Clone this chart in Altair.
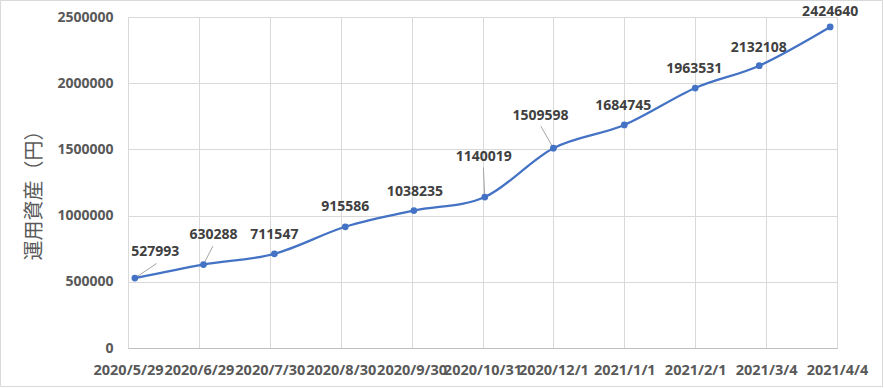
import altair as alt
import pandas as pd

# ---- data ----
dates = ["2020-06-01", "2020-07-01", "2020-08-01", "2020-09-01", "2020-10-01",
         "2020-11-01", "2020-12-01", "2021-01-01", "2021-02-01", "2021-03-01",
         "2021-04-01"]
assets = [527993, 630288, 711547, 915586, 1038235, 1140019, 1509598,
          1684745, 1963531, 2132108, 2424640]
tick_dates = ["2020-05-29", "2020-06-29", "2020-07-30", "2020-08-30", "2020-09-30",
              "2020-10-31", "2020-12-01", "2021-01-01", "2021-02-01", "2021-03-04",
              "2021-04-04"]
y_ticks = [0, 500000, 1000000, 1500000, 2000000, 2500000]
y_title = "運用資産（円）"

# ---- layout / style ----
W, H = 709, 331
PAD = {"left": 128, "top": 17, "right": 47, "bottom": 40}
BLUE = "#4472C4"
FONT = "Open Sans"

# label offsets (pixels from the point) and leader-line ends (pixels from the point)
label_dx = [20.5, 10, 0, 0, 1, -1, -13, -1, -1, -0.5, 0]
label_dy = [-26, -30, -19, -19.5, -19, -40.5, -32.5, -19, -19.5, -18, -14.5]
leaders = {0: (21.7, -14.6), 1: (9.4, -18.4), 5: (-1.4, -29.4), 6: (-12.6, -22.0)}

def ms(s):
    return int(pd.Timestamp(s, tz="UTC").value // 10**6)

x_min, x_max = ms(tick_dates[0]), ms(tick_dates[-1])
ms_per_px = (x_max - x_min) / W
units_per_px = (y_ticks[-1] - y_ticks[0]) / H

df = pd.DataFrame({
    "date": [ms(d) for d in dates],
    "value": assets,
})
df["label"] = [str(v) for v in assets]
df["lx"] = [d + dx * ms_per_px for d, dx in zip(df["date"], label_dx)]
df["ly"] = [v - dy * units_per_px for v, dy in zip(assets, label_dy)]

lead = pd.DataFrame([
    {"date": df["date"][i], "value": assets[i],
     "date2": df["date"][i] + ex * ms_per_px, "value2": assets[i] - ey * units_per_px}
    for i, (ex, ey) in leaders.items()
])

x_scale = alt.Scale(type="utc", domain=[x_min, x_max], nice=False)
y_scale = alt.Scale(domain=[y_ticks[0], y_ticks[-1]], nice=False)

x_axis = alt.Axis(
    values=[ms(d) for d in tick_dates], format="%Y/%-m/%-d", title=None,
    grid=True, gridColor="#d9d9d9", ticks=False, domainColor="#bfbfbf",
    labelFont=FONT, labelFontSize=14.5, labelFontWeight="bold", labelColor="#595959",
    labelOverlap=False, labelFlush=False, labelPadding=15, labelBound=False,
)
y_axis = alt.Axis(
    values=y_ticks, format="d", title=y_title,
    grid=True, gridColor="#d9d9d9", ticks=False, domain=False,
    labelFont=FONT, labelFontSize=14, labelFontWeight="bold", labelColor="#595959",
    labelPadding=15,
    titleFont="Noto Sans CJK JP", titleFontSize=20, titleFontWeight="normal",
    titleColor="#595959", titleX=-94, titleY=173, titleBaseline="middle",
    titleAlign="center", titleAngle=270,
)

base = alt.Chart(df)

border = alt.Chart(pd.DataFrame({"k": [0]})).mark_rect(
    filled=False, stroke="#d9d9d9", strokeWidth=1
).encode(
    x=alt.value(-127.5), x2=alt.value(754.5), y=alt.value(-16.5), y2=alt.value(369.5)
)

line = base.mark_line(interpolate="cardinal", color=BLUE, strokeWidth=2.25).encode(
    x=alt.X("date:T", scale=x_scale, axis=x_axis),
    y=alt.Y("value:Q", scale=y_scale, axis=y_axis),
)

points = base.mark_point(filled=True, color=BLUE, size=45, opacity=1).encode(
    x=alt.X("date:T", scale=x_scale),
    y=alt.Y("value:Q", scale=y_scale),
)

leader_lines = alt.Chart(lead).mark_rule(color="#a6a6a6", strokeWidth=1).encode(
    x=alt.X("date:T", scale=x_scale),
    y=alt.Y("value:Q", scale=y_scale),
    x2="date2:T",
    y2="value2:Q",
)

labels = base.mark_text(
    font=FONT, fontSize=14, fontWeight="bold", color="#404040",
    align="center", baseline="middle",
).encode(
    x=alt.X("lx:T", scale=x_scale),
    y=alt.Y("ly:Q", scale=y_scale),
    text="label:N",
)

chart = alt.layer(border, leader_lines, line, points, labels).properties(
    width=W, height=H,
    padding=PAD,
    autosize=alt.AutoSizeParams(type="none"),
    background="white",
).configure_view(stroke=None)

chart.save("out.html", embed_options={"renderer": "svg", "actions": False})
